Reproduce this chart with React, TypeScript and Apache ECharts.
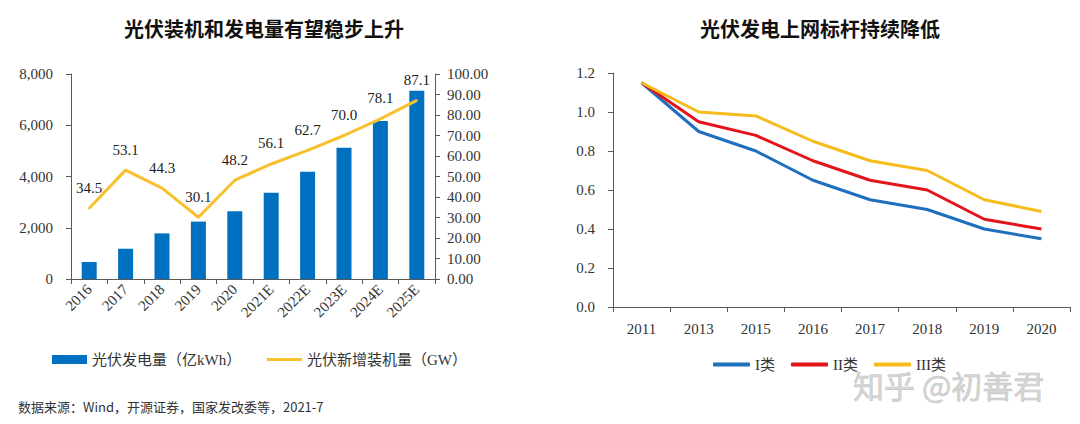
import React, { useEffect, useRef } from "react";
import * as echarts from "echarts";

const leftCategories = ["2016", "2017", "2018", "2019", "2020", "2021E", "2022E", "2023E", "2024E", "2025E"];
const generation = [665, 1180, 1780, 2240, 2640, 3370, 4190, 5125, 6165, 7350];
const newCapacity = [34.5, 53.1, 44.3, 30.1, 48.2, 56.1, 62.7, 70.0, 78.1, 87.1];

const rightCategories = ["2011", "2013", "2015", "2016", "2017", "2018", "2019", "2020"];
const classI = [1.15, 0.9, 0.8, 0.65, 0.55, 0.5, 0.4, 0.35];
const classII = [1.15, 0.95, 0.88, 0.75, 0.65, 0.6, 0.45, 0.4];
const classIII = [1.15, 1.0, 0.98, 0.85, 0.75, 0.7, 0.55, 0.49];

const leftTitle = "光伏装机和发电量有望稳步上升";
const rightTitle = "光伏发电上网标杆持续降低";
const footer = "数据来源：Wind，开源证券，国家发改委等，2021-7";
const watermark = "知乎 @初善君";

const SERIF = "'Liberation Serif', 'Times New Roman', 'Noto Sans CJK SC', serif";
const SANS = "'Noto Sans CJK SC', 'Noto Sans', sans-serif";

export default function App() {
  const ref = useRef<HTMLDivElement>(null);
  useEffect(() => {
    if (!ref.current) return;
    const chart = echarts.init(ref.current, null, { renderer: "svg" });
    const axisLabel = { fontFamily: SERIF, fontSize: 15, color: "#333" };
    const axisLine = { show: true, lineStyle: { color: "#595959", width: 1 } };
    const legendText = { fontFamily: SERIF, fontSize: 15, color: "#333" };
    chart.setOption({
      animation: false,
      backgroundColor: "#fff",
      graphic: [
        { type: "text", x: 264, y: 28, style: { text: leftTitle, font: `bold 20px ${SANS}`, fill: "#111", align: "center", verticalAlign: "middle" } },
        { type: "text", x: 820, y: 28, style: { text: rightTitle, font: `bold 20px ${SANS}`, fill: "#111", align: "center", verticalAlign: "middle" } },
        { type: "text", x: 18, y: 406, style: { text: footer, font: `13px ${SANS}`, fill: "#333", align: "left", verticalAlign: "middle" } },
        { type: "text", x: 853, y: 384, z: 100, style: { text: watermark, font: `31px ${SANS}`, fill: "rgba(205,205,205,0.85)", stroke: "rgba(120,120,120,0.5)", lineWidth: 0.6, align: "left", verticalAlign: "middle" } },
      ],
      legend: [
        {
          left: 47, top: 347, itemWidth: 35, itemHeight: 9,
          textStyle: legendText,
          data: [{ name: "光伏发电量（亿kWh）", icon: "rect" }],
        },
        {
          left: 262, top: 347, itemWidth: 35, itemHeight: 3,
          textStyle: legendText,
          data: [{ name: "光伏新增装机量（GW）", icon: "rect", itemStyle: { color: "#F7C02C", opacity: 1 } }],
        },
        {
          left: 708, top: 352, itemWidth: 37, itemHeight: 4, itemGap: 16,
          textStyle: legendText,
          data: [
            { name: "I类", icon: "roundRect" },
            { name: "II类", icon: "roundRect" },
            { name: "III类", icon: "roundRect" },
          ],
        },
      ],
      grid: [
        { left: 71, right: 645, top: 74, bottom: 145 },
        { left: 613, right: 10, top: 73, bottom: 117 },
      ],
      xAxis: [
        {
          gridIndex: 0, type: "category", data: leftCategories, boundaryGap: true,
          axisLine, axisTick: { show: true, length: 5, lineStyle: { color: "#595959" } },
          axisLabel: { ...axisLabel, rotate: 45, margin: 8, interval: 0 },
        },
        {
          gridIndex: 1, type: "category", data: rightCategories, boundaryGap: true,
          axisLine, axisTick: { show: true, length: 5, lineStyle: { color: "#595959" } },
          axisLabel: { ...axisLabel, margin: 14, interval: 0 },
        },
      ],
      yAxis: [
        {
          gridIndex: 0, type: "value", min: 0, max: 8000, interval: 2000, position: "left",
          axisLine, axisTick: { show: true, length: 5, lineStyle: { color: "#595959" } },
          splitLine: { show: false },
          axisLabel: { ...axisLabel, margin: 18, formatter: (v: number) => v.toLocaleString("en-US") },
        },
        {
          gridIndex: 0, type: "value", min: 0, max: 100, interval: 10, position: "right",
          axisLine, axisTick: { show: true, length: 5, lineStyle: { color: "#595959" } },
          splitLine: { show: false },
          axisLabel: { ...axisLabel, margin: 12, formatter: (v: number) => v.toFixed(2) },
        },
        {
          gridIndex: 1, type: "value", min: 0, max: 1.2, interval: 0.2,
          axisLine, axisTick: { show: true, length: 5, lineStyle: { color: "#595959" } },
          splitLine: { show: false },
          axisLabel: { ...axisLabel, margin: 18, formatter: (v: number) => v.toFixed(1) },
        },
      ],
      series: [
        {
          name: "光伏发电量（亿kWh）", type: "bar", xAxisIndex: 0, yAxisIndex: 0,
          data: generation, barWidth: 15, itemStyle: { color: "#0070C0" },
        },
        {
          name: "光伏新增装机量（GW）", type: "line", xAxisIndex: 0, yAxisIndex: 1,
          data: newCapacity, symbol: "circle", symbolSize: 2, showSymbol: true,
          lineStyle: { color: "#F7C02C", width: 3 },
          itemStyle: { color: "#F7C02C" },
          label: {
            show: true, position: "top", distance: 12, offset: [-4, 0],
            fontFamily: SERIF, fontSize: 15, color: "#222",
            formatter: (p: any) => Number(p.value).toFixed(1),
          },
          labelLayout: { hideOverlap: false },
          z: 3,
        },
        {
          name: "I类", type: "line", xAxisIndex: 1, yAxisIndex: 2, data: classI, symbol: "none",
          lineStyle: { color: "#1F6FBF", width: 3 }, itemStyle: { color: "#1F6FBF" },
        },
        {
          name: "II类", type: "line", xAxisIndex: 1, yAxisIndex: 2, data: classII, symbol: "none",
          lineStyle: { color: "#E4141B", width: 3 }, itemStyle: { color: "#E4141B" },
        },
        {
          name: "III类", type: "line", xAxisIndex: 1, yAxisIndex: 2, data: classIII, symbol: "none",
          lineStyle: { color: "#F5BC1C", width: 3 }, itemStyle: { color: "#F5BC1C" },
        },
      ],
    });
    return () => chart.dispose();
  }, []);
  return <div ref={ref} style={{ position: "fixed", left: 0, top: 0, width: 1080, height: 424 }} />;
}
